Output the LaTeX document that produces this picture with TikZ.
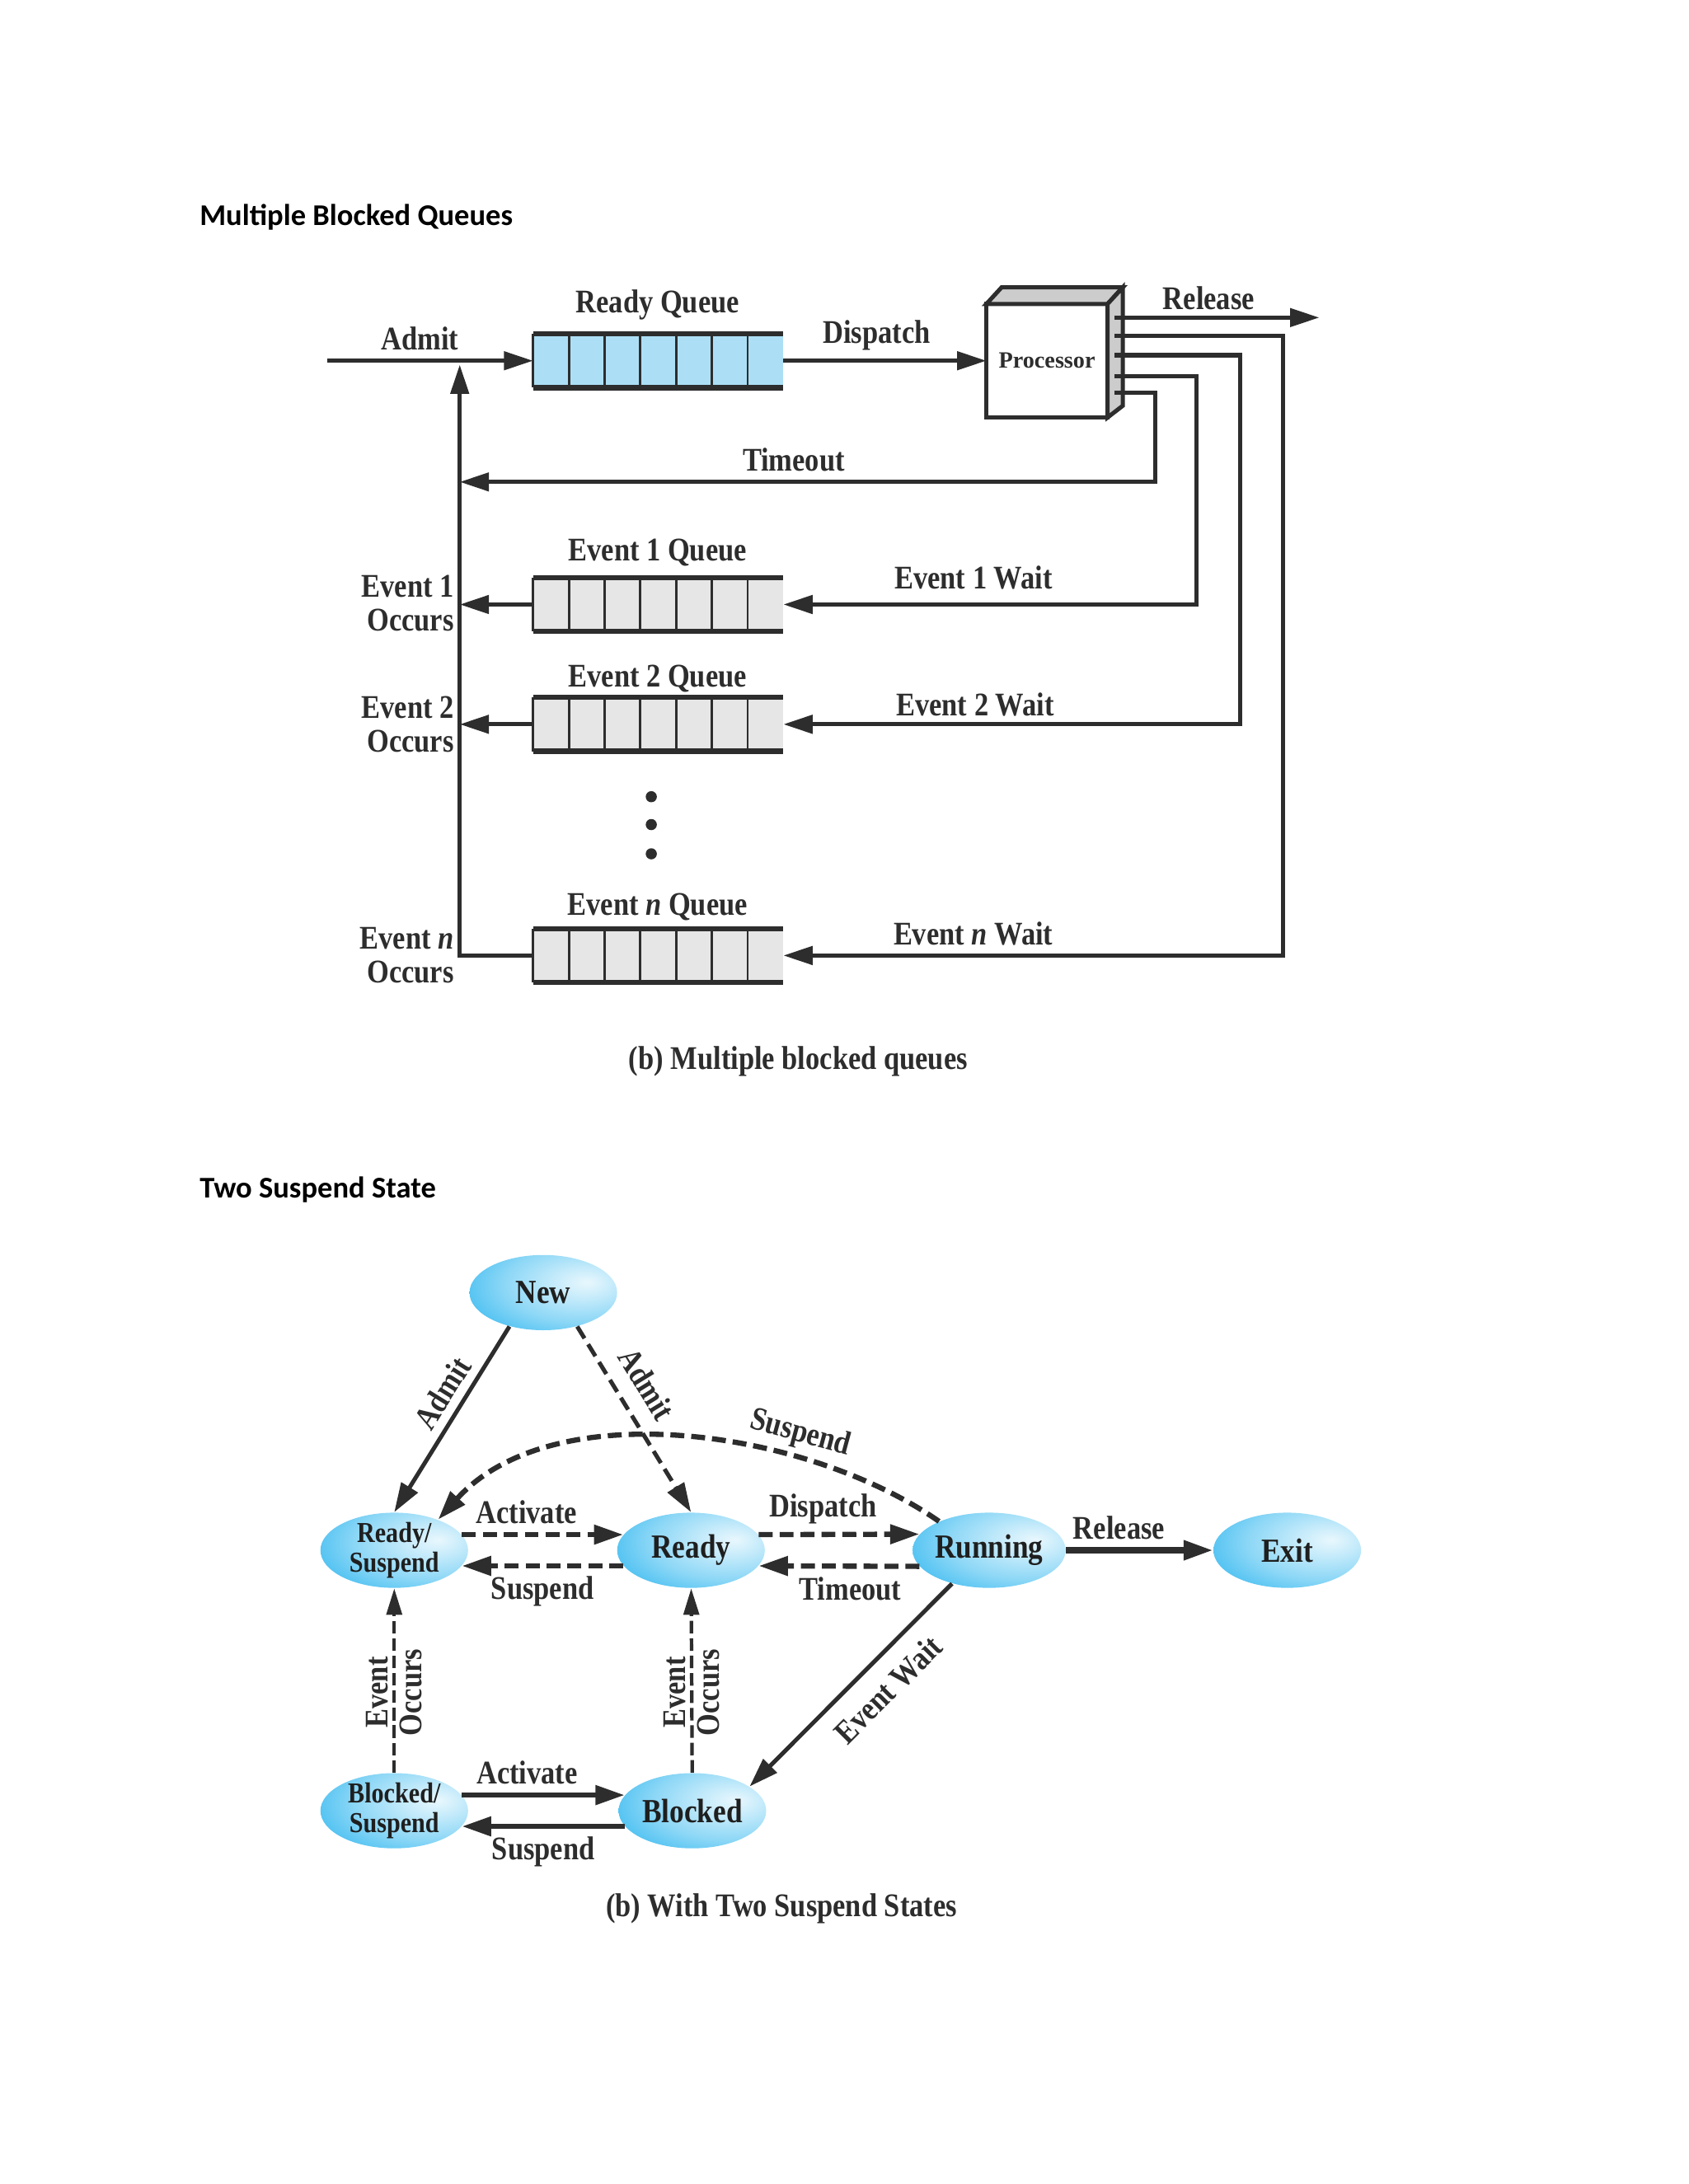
\documentclass[tikz,border=0pt]{standalone}
\usepackage{fontspec}
\setmainfont{Liberation Serif}
\newfontfamily\headfont{Carlito}
\newfontfamily\figfont{Liberation Serif}[FakeStretch=0.86]
\usepackage{tikz}
\usetikzlibrary{arrows.meta,shapes.geometric,calc,positioning}
\definecolor{ink}{RGB}{45,45,45}
\definecolor{qblue}{RGB}{172,223,246}
\definecolor{qgrey}{RGB}{230,230,230}
\definecolor{sky}{RGB}{34,178,238}
\pgfdeclareradialshading{bubble}{\pgfpoint{15bp}{7bp}}{%
  color(0bp)=(white!90!sky); color(10bp)=(white!74!sky);
  color(25bp)=(white!48!sky); color(42bp)=(white!10!sky); color(55bp)=(sky); color(110bp)=(sky)}
% queue cells, argument = queue node
\newcommand\cells[1]{%
  \foreach \k in {0,...,6}
    \draw[cell] ($(#1.north west)!\k/7!(#1.north east)$) -- ($(#1.south west)!\k/7!(#1.south east)$);
  \draw[bar] (#1.north west) -- (#1.north east);
  \draw[bar] (#1.south west) -- (#1.south east);}

\begin{document}
\begin{tikzpicture}[x=0.02cm, y=-0.02cm,
  every node/.style={text=ink},
  lbl/.style={font=\figfont\bfseries\fontsize{13.5}{13.8}\selectfont},
  head/.style={anchor=west, inner sep=0pt, text=black, font=\headfont\bfseries\fontsize{12.3}{14}\selectfont},
  flow/.style={draw=ink, line width=0.06cm, -{Triangle[length=0.42cm,width=0.26cm]}},
  queue/.style={minimum width=3.58cm, minimum height=0.76cm, inner sep=0pt},
  cell/.style={draw=ink, line width=0.035cm},
  bar/.style={draw=ink, line width=0.075cm},
  face/.style={draw=ink, line width=0.06cm, fill=gray!40, line join=miter},
  state/.style={ellipse, shading=bubble, minimum width=2.12cm, minimum height=1.08cm, inner xsep=0pt, inner ysep=-1pt, align=center, text=black!88, font=\figfont\bfseries\fontsize{13.8}{14}\selectfont},
  small/.style={font=\figfont\bfseries\fontsize{11.8}{12}\selectfont},
  move/.style={draw=ink, line width=0.075cm, -{Triangle[length=0.42cm,width=0.27cm]}},
  hop/.style={move, dash pattern=on 0.2cm off 0.1cm},
  wake/.style={draw=ink, line width=0.05cm, dash pattern=on 0.18cm off 0.07cm, -{Triangle[length=0.38cm,width=0.22cm]}}]
\useasboundingbox (0,0) rectangle (1212,1568);
%
\node[head] (h1) at (143,156) {Multiple Blocked Queues};
\node[head] (h2) at (143,854) {Two Suspend State};
%%%%%%%%%%%%%%%%%%%%%%%%%%%%%%% blocked queues
\node[queue, fill=qblue] (rq) at (472.5,259) {};
\node[queue, fill=qgrey] (q1) at (472.5,434) {};
\node[queue, fill=qgrey] (q2) at (472.5,520) {};
\node[queue, fill=qgrey] (qn) at (472.5,686) {};
\cells{rq} \cells{q1} \cells{q2} \cells{qn}
\node[lbl] at (472,219) {Ready Queue};
\node[lbl] at (472,397) {Event 1 Queue};
\node[lbl] at (472,487) {Event 2 Queue};
\node[lbl] at (472,651) {Event \textit{n} Queue};
%
\node[draw=ink, line width=0.06cm, fill=white, outer sep=0pt, inner sep=0pt, minimum width=1.74cm, minimum height=1.63cm, font=\bfseries\fontsize{9.5}{10}\selectfont] (cpu) at (751.5,259) {Processor};
\draw[face] (cpu.north west) -- ++(11,-12) -- ++(87,0) -- (cpu.north east) -- cycle;
\draw[face] (cpu.north east) -- ++(11,-12) -- ++(0,85) -- (cpu.south east) -- cycle;
\coordinate (o0) at (800,228);
\coordinate (o1) at (800,241);
\coordinate (o2) at (800,255);
\coordinate (o3) at (800,270);
\coordinate (o4) at (800,282);
\coordinate (rel) at (947,228);
\coordinate (src) at (235,259);
\coordinate (merge) at (330,259);
\coordinate (tl) at (330,346);
%
\draw[flow] (src) -- (rq.west) node[lbl, pos=0.45, above] {Admit};
\draw[flow] (rq.east) -- (cpu.west) node[lbl, pos=0.46, above] {Dispatch};
\draw[flow] (o0) -- (rel) node[lbl, pos=0.46, above=-1pt] {Release};
\draw[flow] (o4) -- ++(29.5,0) |- (tl) node[lbl, pos=0.76, above] {Timeout};
\draw[flow] (o3) -- ++(59,0) |- (q1.east) node[lbl, pos=0.77, above=2pt] {Event 1 Wait};
\draw[flow] (o2) -- ++(90,0) |- (q2.east) node[lbl, pos=0.79, above=-1pt] {Event 2 Wait};
\draw[flow] (o1) -- ++(121,0) |- (qn.east) node[lbl, pos=0.81, above] {Event \textit{n} Wait};
%
\draw[flow] (q1.west) -- (q1.west -| merge);
\draw[flow] (q2.west) -- (q2.west -| merge);
\draw[flow, shorten >=1.6pt] (qn.west) -| (merge);
\node[lbl, align=right, anchor=east] at (332,433) {Event 1\\Occurs};
\node[lbl, align=right, anchor=east] at (332,520) {Event 2\\Occurs};
\node[lbl, align=right, anchor=east] at (332,686) {Event \textit{n}\\Occurs};
\foreach \y in {572,592,613} \fill[ink] (467.5,\y) circle (0.08cm);
\node[lbl] at (573,762) {(b) Multiple blocked queues};
%%%%%%%%%%%%%%%%%%%%%%%%%%%%%%% two suspend states
\node[state] (new) at (390,928) {New};
\node[state, small] (rs) at (283,1113) {Ready/\\Suspend};
\node[state] (rd) at (496,1113) {Ready};
\node[state] (run) at (710,1113) {Running};
\node[state] (ex) at (924,1113) {Exit};
\node[state, small] (bs) at (283,1300) {Blocked/\\Suspend};
\node[state] (bl) at (497,1300) {Blocked};
%
\draw[move, line width=0.06cm] (new.225) -- (rs.north) node[lbl, pos=0.42, sloped, above] {Admit};
\draw[hop, line width=0.06cm] (new.-45) -- (rd.north) node[lbl, pos=0.39, sloped, above=3pt] {Admit};
\draw[hop] (run.150) .. controls (579,1026) and (397,1000) .. (rs.35) node[lbl, pos=0.3, sloped, above=-1pt] {Suspend};
\draw[hop] (rs.13) -- (rd.167) node[lbl, pos=0.4, above] {Activate};
\draw[hop] (rd.193) -- (rs.-13) node[lbl, pos=0.5, below] {Suspend};
\draw[hop] (rd.13) -- (run.167) node[lbl, pos=0.4, above] {Dispatch};
\draw[hop] (run.193) -- (rd.-13) node[lbl, pos=0.43, below] {Timeout};
\draw[move, line width=0.085cm] (run) -- (ex) node[lbl, pos=0.36, above] {Release};
\draw[move, line width=0.06cm] (run.222) -- (bl.23) node[lbl, pos=0.42, sloped, below=3pt] {Event Wait};
\draw[wake] (bs) -- (rs) node[lbl, pos=0.435, rotate=90, align=center] {Event\\Occurs};
\draw[wake] (bl) -- (rd) node[lbl, pos=0.435, rotate=90, align=center] {Event\\Occurs};
\draw[move] (bs.13) -- (bl.167) node[lbl, pos=0.4, above] {Activate};
\draw[move] (bl.193) -- (bs.-13) node[lbl, pos=0.5, below] {Suspend};
\node[lbl] at (561,1370) {(b) With Two Suspend States};
%%%%%%%%%%%%%%%%%%%%%%%%%%%%%%%
\end{tikzpicture}
\end{document}
